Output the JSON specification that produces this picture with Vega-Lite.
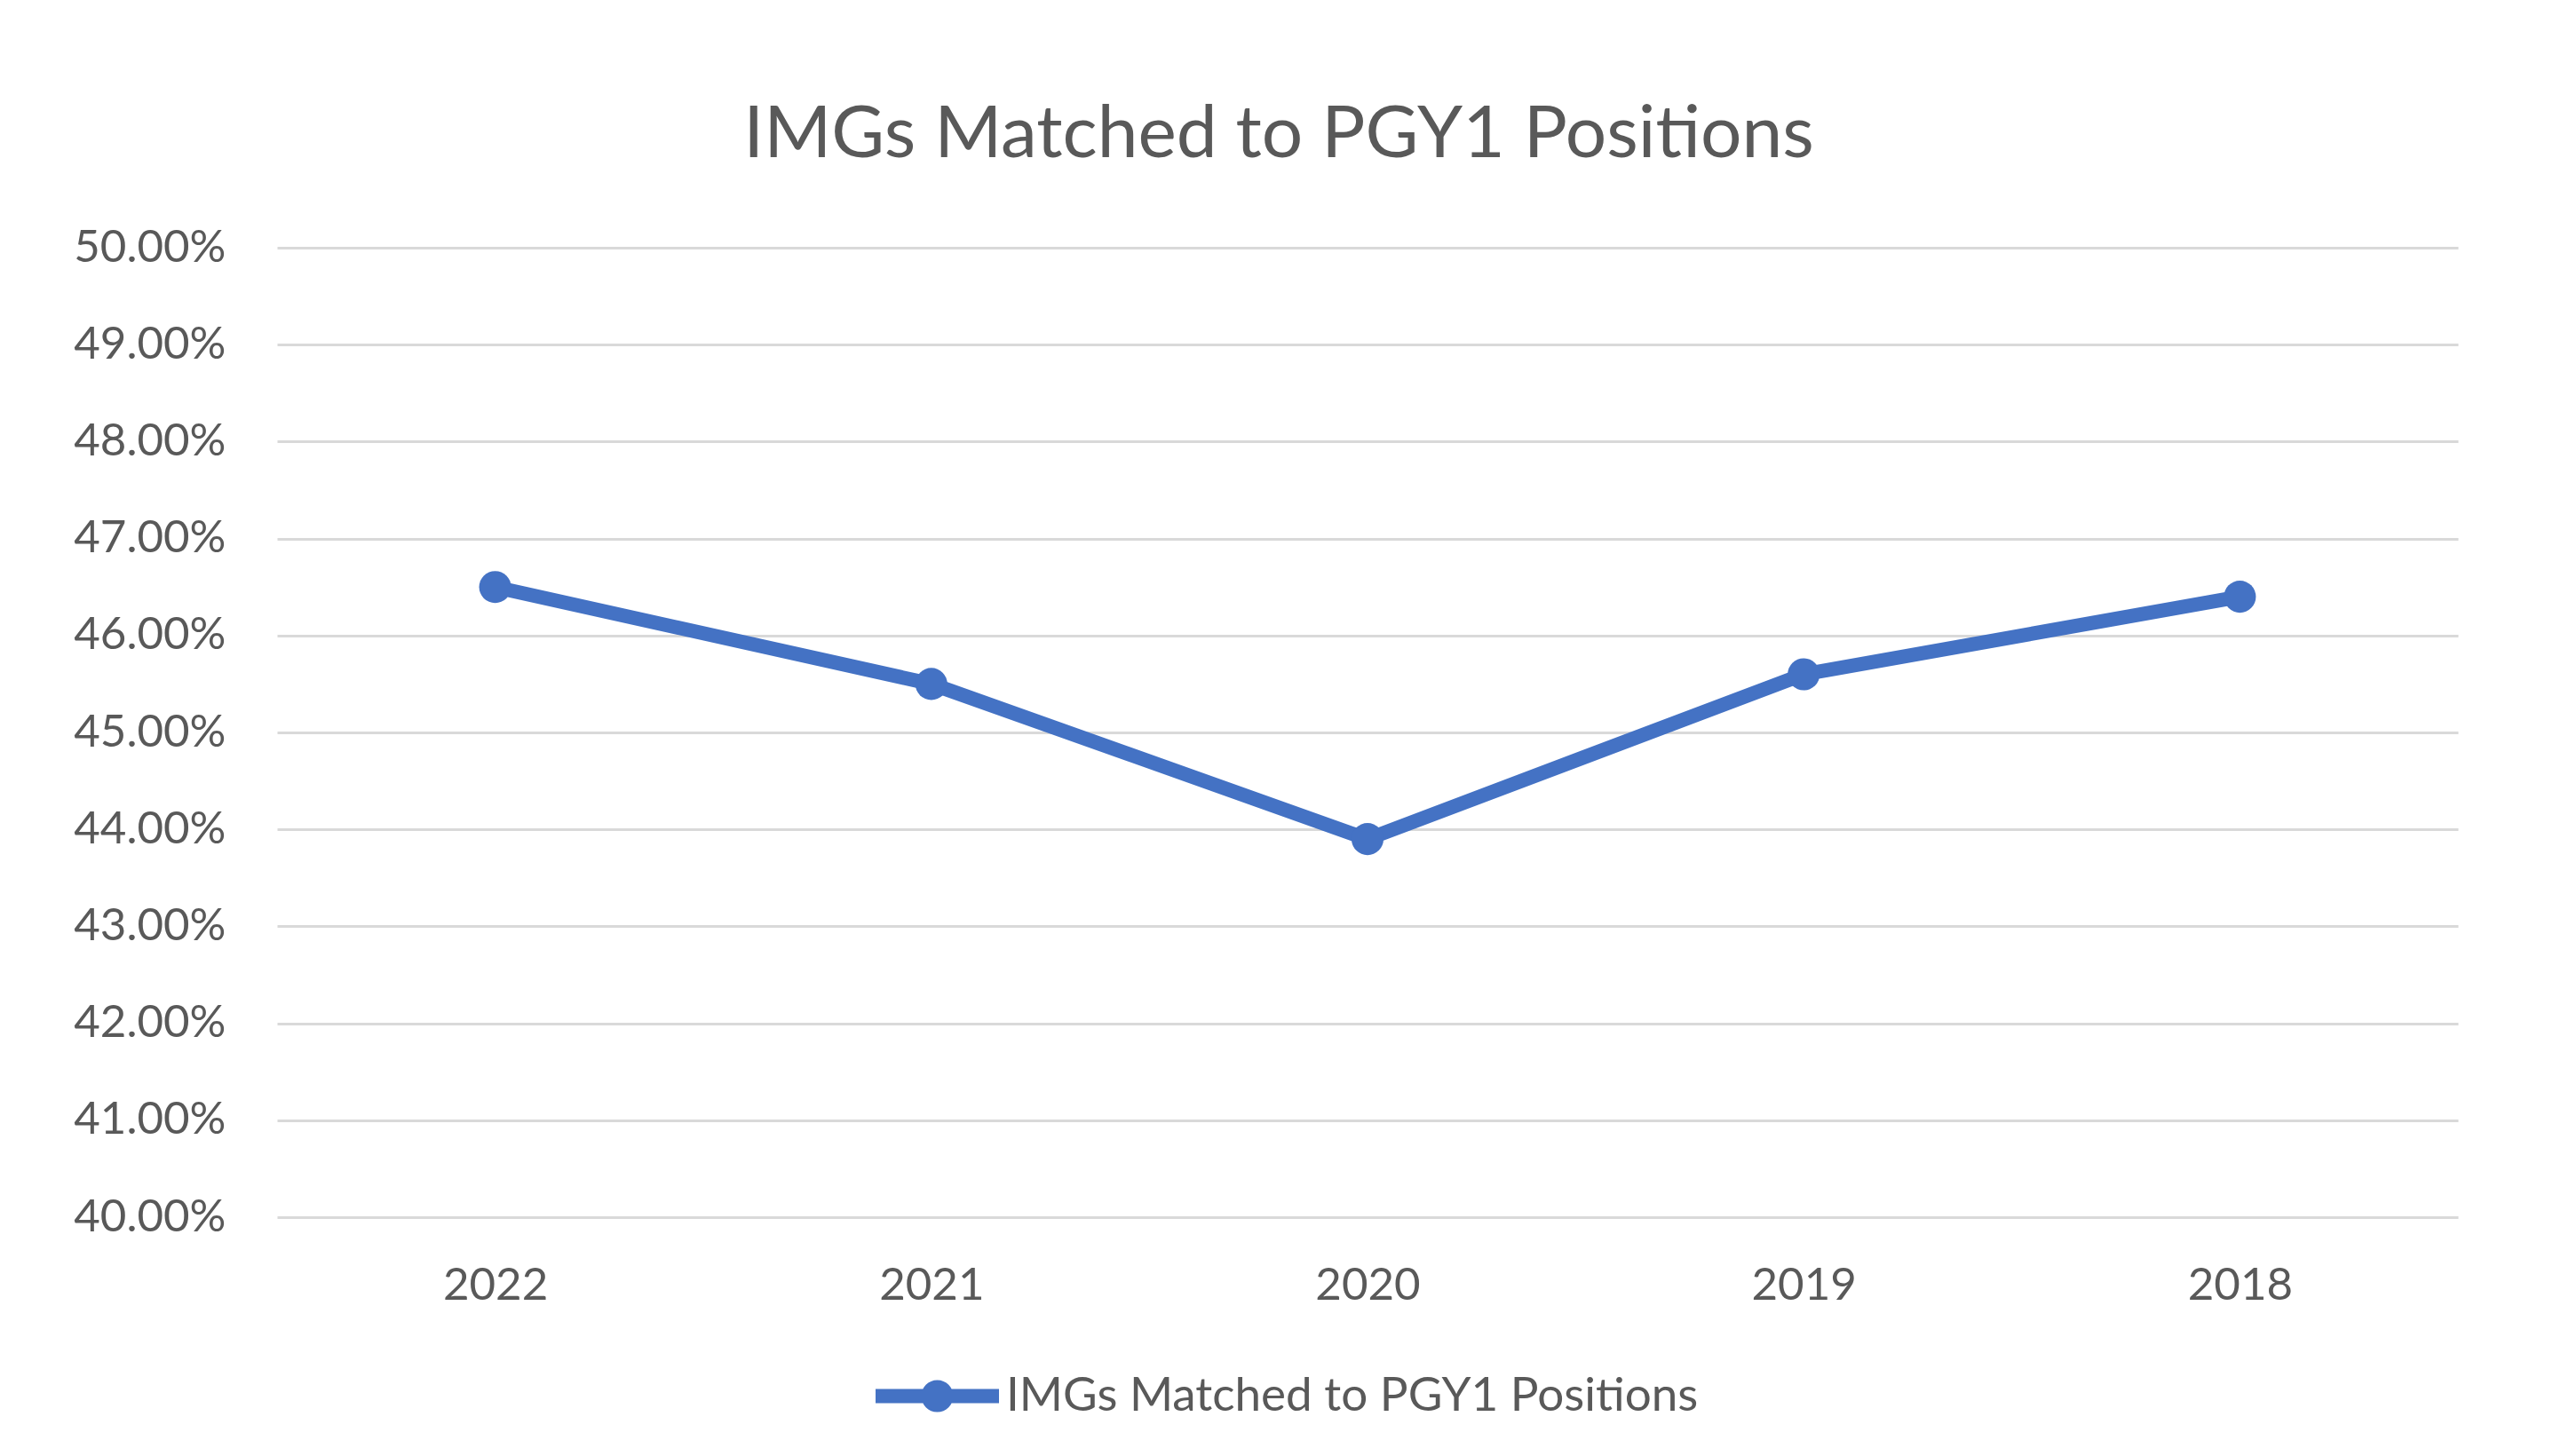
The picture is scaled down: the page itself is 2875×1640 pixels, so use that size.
{
  "$schema": "https://vega.github.io/schema/vega-lite/v6.json",
  "width": 2456,
  "height": 1092,
  "autosize": "none",
  "padding": {"left": 312, "top": 279, "right": 107, "bottom": 269},
  "background": "white",
  "title": {
    "text": "IMGs Matched to PGY1 Positions",
    "anchor": "middle",
    "frame": "group",
    "dx": -100,
    "dy": 110,
    "offset": 104,
    "baseline": "alphabetic",
    "font": "Lato",
    "fontSize": 82,
    "fontWeight": "normal",
    "color": "#595959"
  },
  "data": {
    "values": [
      {"year": "2022", "pct": 0.465, "series": "IMGs Matched to PGY1 Positions"},
      {"year": "2021", "pct": 0.455, "series": "IMGs Matched to PGY1 Positions"},
      {"year": "2020", "pct": 0.439, "series": "IMGs Matched to PGY1 Positions"},
      {"year": "2019", "pct": 0.456, "series": "IMGs Matched to PGY1 Positions"},
      {"year": "2018", "pct": 0.464, "series": "IMGs Matched to PGY1 Positions"}
    ]
  },
  "encoding": {
    "x": {
      "field": "year",
      "type": "ordinal",
      "sort": null,
      "scale": {"type": "point", "padding": 0.5},
      "axis": {"title": null, "labelAngle": 0, "labelPadding": 52, "grid": false, "domain": false, "ticks": false}
    },
    "y": {
      "field": "pct",
      "type": "quantitative",
      "scale": {"domain": [0.4, 0.5], "zero": false, "nice": false},
      "axis": {
        "title": null,
        "values": [0.40, 0.41, 0.42, 0.43, 0.44, 0.45, 0.46, 0.47, 0.48, 0.49, 0.50],
        "format": ".2%",
        "labelPadding": 58,
        "grid": true,
        "domain": false,
        "ticks": false
      }
    }
  },
  "layer": [
    {"mark": {"type": "line", "color": "#4472C4", "strokeWidth": 16, "strokeCap": "round", "strokeJoin": "round"}},
    {
      "mark": {"type": "point", "filled": true, "opacity": 1, "size": 1300},
      "encoding": {
        "color": {
          "field": "series",
          "type": "nominal",
          "scale": {"range": ["#4472C4"]},
          "legend": {
            "title": null,
            "orient": "none",
            "legendX": 674,
            "legendY": 1224,
            "padding": 0,
            "symbolType": "M-1,-0.115L1,-0.115L1,0.115L-1,0.115Z M0.26,0A0.26,0.26 0 1,1 -0.26,0A0.26,0.26 0 1,1 0.26,0Z",
            "symbolSize": 19321,
            "symbolStrokeWidth": 0,
            "symbolOpacity": 1,
            "labelFont": "Lato",
            "labelFontSize": 53,
            "labelColor": "#595959",
            "labelOffset": 8,
            "labelLimit": 2000
          }
        }
      }
    }
  ],
  "config": {
    "view": {"stroke": null},
    "axis": {
      "labelFont": "Lato",
      "labelFontSize": 51,
      "labelColor": "#595959",
      "gridColor": "#D9D9D9",
      "gridWidth": 3,
      "gridOpacity": 1
    }
  }
}
